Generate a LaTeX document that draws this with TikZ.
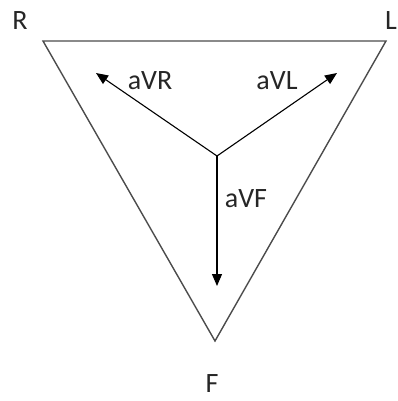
\documentclass[tikz,border=0pt]{standalone}
\usepackage{fontspec}
\setmainfont{Carlito}
\usetikzlibrary{arrows.meta}

\tikzset{
  lead/.style={font=\fontsize{28}{32}\selectfont, text=black!85, inner sep=0pt},
  vec/.style={-{Triangle[length=12pt,width=10pt]}, line width=1.1pt, black}
}

\begin{document}
\begin{tikzpicture}[x=1pt, y=-1pt]
    \useasboundingbox (0, 0) rectangle (398, 401);

    % limb electrodes
    \coordinate (r) at (43, 41);
    \coordinate (l) at (386, 41);
    \coordinate (f) at (215, 341);
    \coordinate (o) at (217, 156);    % centre

    \draw[black!70, line width=1.4pt, line join=miter] (r) -- (l) -- (f) -- cycle;

    % augmented leads
    \coordinate (tipR) at (96, 73);
    \coordinate (tipL) at (337, 73);
    \coordinate (tipF) at (217, 286);
    \draw[vec] (o) -- (tipR);
    \draw[vec] (o) -- (tipL);
    \draw[vec] (o) -- (tipF);

    % labels
    \node[lead] (labR) at (20, 21) {R};
    \node[lead] (labL) at (391, 21) {L};
    \node[lead] (labF) at (212, 384) {F};
    \node[lead] (aVR) at (150, 81) {aVR};
    \node[lead] (aVL) at (277, 81) {aVL};
    \node[lead] (aVF) at (246, 199) {aVF};
\end{tikzpicture}
\end{document}
